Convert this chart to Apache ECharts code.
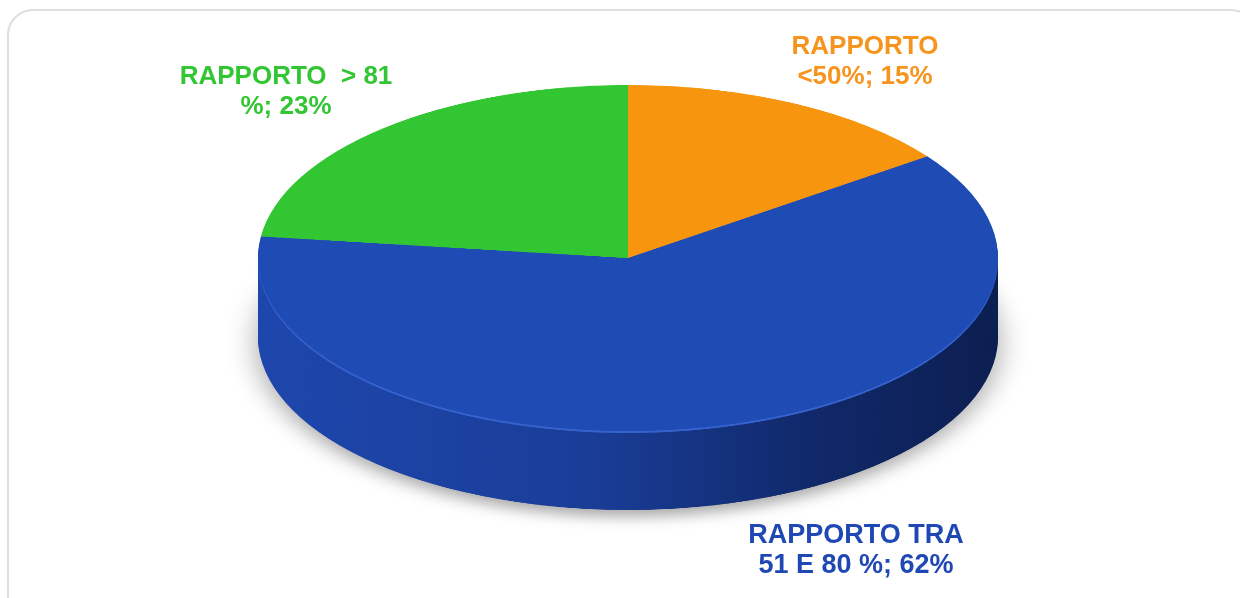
<!DOCTYPE html>
<html lang="it">
  <head>
    <meta charset="UTF-8" />
    <title>Rapporto</title>
    <script src="https://cdn.jsdelivr.net/npm/echarts@6/dist/echarts.min.js"></script>
    <style>
      html, body { margin: 0; padding: 0; background: #fff; overflow: hidden; }
      #wrap { position: relative; width: 1240px; height: 598px; overflow: hidden; }
      #frame {
        position: absolute; left: 7px; top: 9px; width: 1250px; height: 620px;
        border: 2px solid #dedede; border-radius: 26px; box-sizing: border-box;
      }
      /* il disco viene schiacciato in verticale per dare l'effetto 3D */
      #disc {
        position: absolute; left: 0; top: 0; width: 1240px; height: 1279px;
        transform: scaleY(0.4676); transform-origin: 0 0;
      }
      #labels { position: absolute; left: 0; top: 0; width: 1240px; height: 598px; }
    </style>
  </head>
  <body>
    <div id="wrap">
      <div id="frame"></div>
      <div id="disc"></div>
      <div id="labels"></div>
    </div>
    <script>
      // dati
      var names = ['RAPPORTO\n<50%', 'RAPPORTO TRA\n51 E 80 %', 'RAPPORTO  > 81\n%'];
      var values = [15, 62, 23];
      var topColors = ['#f7960e', '#1f4bb5', '#33c633'];
      var rimColors = ['#f9a838', '#3562cc', '#4fd24f'];
      var sideColors = ['#b86a05', null, '#23932a'];
      var labelColors = ['#f7941d', '#1f48b4', '#33c633'];
      var labelPos = [[865, 62], [856, 551], [286, 92]];

      var squash = 0.4676; // rapporto asse y / asse x
      var cx = 628;
      var cy = 258; // centro della faccia superiore (pixel sullo schermo)
      var radius = 370;
      var depth = 79; // spessore del disco
      var layers = 40;

      var blueSide = new echarts.graphic.LinearGradient(0, 0, 1, 0, [
        { offset: 0, color: '#1e47ad' },
        { offset: 0.45, color: '#1a3d98' },
        { offset: 0.75, color: '#11296a' },
        { offset: 1, color: '#0c1f52' },
      ]);

      function layer(offset, colorFn, extra) {
        return {
          type: 'pie',
          silent: true,
          animation: false,
          radius: radius,
          center: [cx, (cy + offset) / squash],
          startAngle: 90,
          clockwise: true,
          label: { show: false },
          labelLine: { show: false },
          itemStyle: Object.assign({ borderWidth: 0 }, extra || {}),
          data: values.map(function (v, i) {
            return { name: names[i], value: v, itemStyle: { color: colorFn(i) } };
          }),
        };
      }

      var series = [];
      // fianco del disco: tante copie sovrapposte dal basso verso l'alto
      for (var k = 0; k <= layers; k++) {
        var off = 2 + (depth - 2) * (1 - k / layers);
        series.push(
          layer(
            off,
            function (i) { return i === 1 ? blueSide : sideColors[i]; },
            k === 0
              ? { shadowBlur: 30, shadowColor: 'rgba(0,0,0,0.35)', shadowOffsetY: 14 }
              : null
          )
        );
      }
      // bordo chiaro e faccia superiore
      series.push(layer(2, function (i) { return rimColors[i]; }));
      series.push(layer(0, function (i) { return topColors[i]; }));

      var discChart = echarts.init(document.getElementById('disc'));
      discChart.setOption({ series: series });

      // etichette
      var labelChart = echarts.init(document.getElementById('labels'));
      labelChart.setOption({
        series: [
          {
            type: 'pie',
            silent: true,
            animation: false,
            radius: 10,
            center: [cx, cy],
            startAngle: 90,
            avoidLabelOverlap: false,
            itemStyle: { color: 'rgba(0,0,0,0)', borderWidth: 0 },
            labelLine: { show: false },
            label: {
              show: true,
              position: 'outside',
              fontFamily: 'Liberation Sans, Arial, sans-serif',
              fontWeight: 'bold',
              fontSize: 26,
              lineHeight: 30,
              align: 'center',
              formatter: function (p) {
                return p.name + '; ' + p.value + '%';
              },
            },
            labelLayout: function (p) {
              return {
                x: labelPos[p.dataIndex][0],
                y: labelPos[p.dataIndex][1],
                align: 'center',
                verticalAlign: 'middle',
              };
            },
            data: values.map(function (v, i) {
              return {
                name: names[i],
                value: v,
                label: { color: labelColors[i], fontSize: i === 1 ? 27 : 26 },
              };
            }),
          },
        ],
      });
    </script>
  </body>
</html>
